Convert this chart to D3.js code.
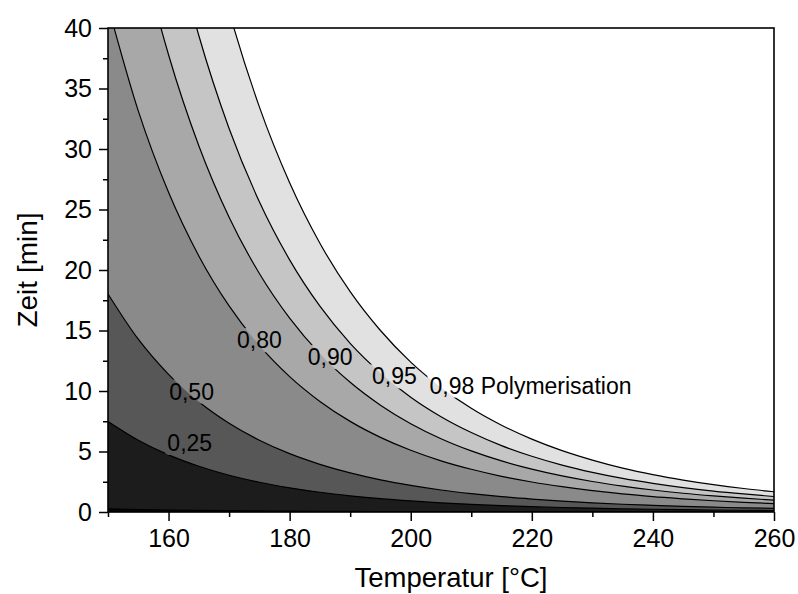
<!DOCTYPE html>
<html>
<head>
<meta charset="utf-8">
<script src="https://cdn.jsdelivr.net/npm/d3@7"></script>
<style>
  html, body { margin: 0; padding: 0; background: #ffffff; }
  svg { display: block; font-family: "Liberation Sans", Arial, sans-serif; }
</style>
</head>
<body>
<svg id="chart" width="798" height="594"></svg>
<script>
// Temperature grid (°C) on which the iso-conversion times are tabulated
const temps = [150, 155, 160, 165, 170, 175, 180, 185, 190, 195, 200, 205,
               210, 215, 220, 225, 230, 235, 240, 245, 250, 255, 260];

// Time (min) needed to reach each degree of polymerisation
const t01 = [0.261, 0.207, 0.165, 0.132, 0.106, 0.086, 0.070, 0.057, 0.047, 0.039, 0.032, 0.026,
             0.022, 0.018, 0.015, 0.013, 0.011, 0.009, 0.008, 0.007, 0.006, 0.005, 0.004];
const t25 = [7.48, 5.93, 4.72, 3.78, 3.04, 2.46, 2.00, 1.63, 1.34, 1.10, 0.912, 0.757,
             0.631, 0.527, 0.443, 0.373, 0.315, 0.267, 0.227, 0.194, 0.166, 0.143, 0.123];
const t50 = [18.02, 14.28, 11.38, 9.11, 7.33, 5.93, 4.82, 3.94, 3.23, 2.66, 2.20, 1.82,
             1.52, 1.27, 1.07, 0.90, 0.76, 0.64, 0.55, 0.47, 0.40, 0.34, 0.30];
const t80 = [41.84, 33.15, 26.42, 21.16, 17.03, 13.77, 11.19, 9.14, 7.49, 6.17, 5.10, 4.23,
             3.53, 2.95, 2.48, 2.09, 1.76, 1.50, 1.27, 1.09, 0.93, 0.80, 0.69];
const t90 = [59.85, 47.43, 37.79, 30.27, 24.36, 19.71, 16.02, 13.07, 10.72, 8.83, 7.30, 6.06,
             5.05, 4.22, 3.54, 2.98, 2.52, 2.14, 1.82, 1.55, 1.33, 1.14, 0.98];
const t95 = [77.87, 61.71, 49.17, 39.38, 31.70, 25.64, 20.84, 17.01, 13.94, 11.49, 9.49, 7.88,
             6.57, 5.49, 4.61, 3.88, 3.28, 2.78, 2.37, 2.02, 1.73, 1.49, 1.28];
const t98 = [101.7, 80.58, 64.21, 51.43, 41.39, 33.48, 27.21, 22.21, 18.21, 15.00, 12.39, 10.29,
             8.57, 7.17, 6.02, 5.07, 4.29, 3.63, 3.09, 2.64, 2.26, 1.94, 1.67];

// Contour levels, their labels, and the grey of the band above each level
const levels      = [0.01, 0.25, 0.50, 0.80, 0.90, 0.95, 0.98];
const levelTimes  = [t01, t25, t50, t80, t90, t95, t98];
const levelLabels = [null, "0,25", "0,50", "0,80", "0,90", "0,95", "0,98 Polymerisation"];
const baseFill    = "#050505";
const bandFills   = ["#1c1c1c", "#575757", "#8a8a8a", "#a8a8a8", "#c5c5c5", "#e1e1e1", "#ffffff"];

// Label anchor points in data units (temperature, time)
const labelT = [null, 163.5, 163.8, 175.0, 186.7, 197.3, 203.1];
const labelZ = [null, 5.7, 9.95, 14.2, 12.8, 11.2, 10.45];
const labelAnchor = [null, "middle", "middle", "middle", "middle", "middle", "start"];

const xTicksMajor = [160, 180, 200, 220, 240, 260];
const xTicksMinor = [150, 170, 190, 210, 230, 250];
const yTicksMajor = [0, 5, 10, 15, 20, 25, 30, 35, 40];
const yTicksMinor = [2.5, 7.5, 12.5, 17.5, 22.5, 27.5, 32.5, 37.5];

const margin = { left: 108, top: 28, right: 24, bottom: 82 };
const W = 798, H = 594;
const svg = d3.select("#chart");

const x = d3.scaleLinear().domain([150, 260]).range([margin.left, W - margin.right]);
const y = d3.scaleLinear().domain([0, 40]).range([H - margin.bottom, margin.top]);

const defs = svg.append("defs");
defs.append("clipPath").attr("id", "plotClip")
  .append("rect")
  .attr("x", x.range()[0]).attr("y", y.range()[1])
  .attr("width", x.range()[1] - x.range()[0])
  .attr("height", y.range()[0] - y.range()[1]);

const plot = svg.append("g").attr("clip-path", "url(#plotClip)");

// Lowest band fills the whole plot area
plot.append("rect")
  .attr("x", x.range()[0]).attr("y", y.range()[1])
  .attr("width", x.range()[1] - x.range()[0])
  .attr("height", y.range()[0] - y.range()[1])
  .attr("fill", baseFill);

// Each band: everything above its contour line, painted from low to high level
const areaFor = times => d3.area()
  .x((d, i) => x(temps[i]))
  .y0((d, i) => y(times[i]))
  .y1(y.range()[1] - 2)
  .curve(d3.curveMonotoneX)(temps);

levels.forEach((lv, k) => {
  plot.append("path")
    .attr("d", areaFor(levelTimes[k]))
    .attr("fill", bandFills[k]);
});

// Contour lines, each interrupted where its label sits
const labelG = svg.append("g").attr("font-size", 23).attr("fill", "#000");
const lineG = plot.append("g");

const lineFor = times => d3.line()
  .x((d, i) => x(temps[i]))
  .y((d, i) => y(times[i]))
  .curve(d3.curveMonotoneX)(temps);

levels.forEach((lv, k) => {
  const path = lineG.append("path")
    .attr("d", lineFor(levelTimes[k]))
    .attr("fill", "none")
    .attr("stroke", "#000")
    .attr("stroke-width", 1.2);
  if (levelLabels[k]) {
    const txt = labelG.append("text")
      .attr("x", x(labelT[k]))
      .attr("y", y(labelZ[k]))
      .attr("text-anchor", labelAnchor[k])
      .attr("dominant-baseline", "central")
      .text(levelLabels[k]);
    const bb = txt.node().getBBox();
    const m = defs.append("mask").attr("id", "gap" + k)
      .attr("maskUnits", "userSpaceOnUse")
      .attr("x", 0).attr("y", 0).attr("width", W).attr("height", H);
    m.append("rect").attr("x", 0).attr("y", 0).attr("width", W).attr("height", H).attr("fill", "#fff");
    m.append("rect")
      .attr("x", bb.x - 2).attr("y", bb.y + 1)
      .attr("width", bb.width + 4).attr("height", bb.height - 2)
      .attr("fill", "#000");
    path.attr("mask", "url(#gap" + k + ")");
  }
});
labelG.raise();

// Axes
const axisStyle = g => {
  g.selectAll(".domain").remove();
  g.selectAll("line").attr("stroke", "#000").attr("stroke-width", 1.5);
  g.selectAll("text").attr("font-size", 25).attr("fill", "#000")
    .attr("font-family", '"Liberation Sans", Arial, sans-serif');
};

svg.append("g")
  .attr("transform", `translate(0,${y.range()[0]})`)
  .call(d3.axisBottom(x).tickValues(xTicksMajor).tickSize(9).tickPadding(8).tickFormat(d3.format("d")))
  .call(axisStyle);
svg.append("g")
  .attr("transform", `translate(0,${y.range()[0]})`)
  .call(d3.axisBottom(x).tickValues(xTicksMinor).tickSize(5).tickFormat(""))
  .call(axisStyle);
svg.append("g")
  .attr("transform", `translate(${x.range()[0]},0)`)
  .call(d3.axisLeft(y).tickValues(yTicksMajor).tickSize(9).tickPadding(7).tickFormat(d3.format("d")))
  .call(axisStyle);
svg.append("g")
  .attr("transform", `translate(${x.range()[0]},0)`)
  .call(d3.axisLeft(y).tickValues(yTicksMinor).tickSize(5).tickFormat(""))
  .call(axisStyle);

// Frame
svg.append("rect")
  .attr("x", x.range()[0]).attr("y", y.range()[1])
  .attr("width", x.range()[1] - x.range()[0])
  .attr("height", y.range()[0] - y.range()[1])
  .attr("fill", "none").attr("stroke", "#000").attr("stroke-width", 1.6);

// Axis titles
svg.append("text")
  .attr("x", 451).attr("y", 587)
  .attr("text-anchor", "middle")
  .attr("font-size", 27.5)
  .text("Temperatur [°C]");
svg.append("text")
  .attr("transform", `translate(37,${(y.range()[0] + y.range()[1]) / 2}) rotate(-90)`)
  .attr("text-anchor", "middle")
  .attr("font-size", 28)
  .text("Zeit [min]");
</script>
</body>
</html>
